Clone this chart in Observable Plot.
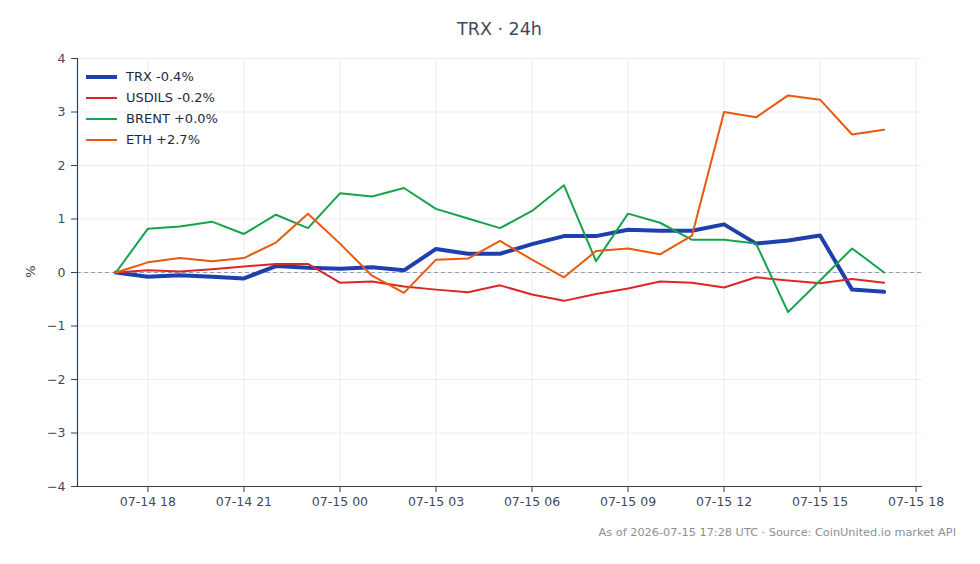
<!DOCTYPE html>
<html>
<head>
<meta charset="utf-8">
<script src="https://cdn.jsdelivr.net/npm/d3@7"></script>
<script src="https://cdn.jsdelivr.net/npm/@observablehq/plot@0.6"></script>
<style>
  html, body { margin: 0; padding: 0; background: #fff; }
  body { width: 980px; height: 564px; overflow: hidden; font-family: "DejaVu Sans", sans-serif; }
  #wrap { position: relative; width: 980px; height: 564px; }
  #title { position: absolute; left: 77px; width: 845px; top: 19px; text-align: center; font-size: 17.5px; color: #3f4a5c; }
  #ylab { position: absolute; left: 24px; top: 264px; font-size: 13px; color: #334155; transform: rotate(-90deg); transform-origin: center; }
  #caption { position: absolute; right: 24px; top: 526px; font-size: 11.3px; color: #8a8f98; white-space: nowrap; }
  #legend { position: absolute; left: 86px; top: 66px; font-size: 13px; color: #1f2937; }
  #legend .row { display: flex; align-items: center; height: 21px; }
  #legend svg { margin-right: 9px; }
</style>
</head>
<body>
<div id="wrap">
  <div id="chart"></div>
  <div id="title">TRX · 24h</div>
  <div id="ylab">%</div>
  <div id="legend"></div>
  <div id="caption">As of 2026-07-15 17:28 UTC · Source: CoinUnited.io market API</div>
</div>
<script>
// Hourly timestamps (UTC)
const times = [
  "2026-07-14T17:00Z","2026-07-14T18:00Z","2026-07-14T19:00Z","2026-07-14T20:00Z","2026-07-14T21:00Z",
  "2026-07-14T22:00Z","2026-07-14T23:00Z","2026-07-15T00:00Z","2026-07-15T01:00Z","2026-07-15T02:00Z",
  "2026-07-15T03:00Z","2026-07-15T04:00Z","2026-07-15T05:00Z","2026-07-15T06:00Z","2026-07-15T07:00Z",
  "2026-07-15T08:00Z","2026-07-15T09:00Z","2026-07-15T10:00Z","2026-07-15T11:00Z","2026-07-15T12:00Z",
  "2026-07-15T13:00Z","2026-07-15T14:00Z","2026-07-15T15:00Z","2026-07-15T16:00Z","2026-07-15T17:00Z"
];
const seriesNames = ["TRX", "USDILS", "BRENT", "ETH"];
const seriesColors = ["#1e40af", "#dc2626", "#16a34a", "#ea580c"];
const seriesWidths = [4, 2, 2, 2];

const trx    = [0, -0.08, -0.05, -0.08, -0.11, 0.12, 0.09, 0.07, 0.10, 0.04, 0.44, 0.35, 0.35, 0.53, 0.68, 0.68, 0.80, 0.78, 0.78, 0.90, 0.54, 0.60, 0.69, -0.32, -0.36];
const usdils = [0, 0.04, 0.02, 0.06, 0.11, 0.16, 0.16, -0.19, -0.17, -0.26, -0.32, -0.37, -0.24, -0.41, -0.53, -0.40, -0.30, -0.17, -0.19, -0.28, -0.09, -0.15, -0.20, -0.12, -0.19];
const brent  = [0, 0.82, 0.86, 0.95, 0.72, 1.08, 0.83, 1.48, 1.42, 1.58, 1.19, 1.01, 0.83, 1.15, 1.63, 0.21, 1.10, 0.93, 0.61, 0.61, 0.54, -0.74, -0.15, 0.45, 0.00];
const eth    = [0, 0.19, 0.27, 0.21, 0.27, 0.56, 1.10, 0.54, -0.06, -0.38, 0.24, 0.26, 0.59, 0.24, -0.09, 0.40, 0.45, 0.34, 0.69, 3.00, 2.90, 3.31, 3.23, 2.58, 2.67];

const yTicks = [-4, -3, -2, -1, 0, 1, 2, 3, 4];
const xTicks = ["2026-07-14T18:00Z","2026-07-14T21:00Z","2026-07-15T00:00Z","2026-07-15T03:00Z","2026-07-15T06:00Z","2026-07-15T09:00Z","2026-07-15T12:00Z","2026-07-15T15:00Z","2026-07-15T18:00Z"].map(d => new Date(d));
const xDomain = [new Date("2026-07-14T15:48Z"), new Date("2026-07-15T18:12Z")];

const allSeries = [trx, usdils, brent, eth];
const rows = [];
allSeries.forEach((vals, si) => vals.forEach((v, i) => rows.push({t: new Date(times[i]), v, s: seriesNames[si]})));

const axisColor = "#334155";
const chart = Plot.plot({
  width: 980, height: 564,
  marginTop: 58, marginBottom: 78, marginLeft: 77, marginRight: 58,
  style: {fontFamily: "DejaVu Sans, sans-serif", fontSize: "12.5px", color: axisColor, background: "#fff"},
  x: {type: "utc", domain: xDomain},
  y: {domain: [-4, 4]},
  color: {domain: seriesNames, range: seriesColors},
  marks: [
    Plot.gridX(xTicks, {stroke: "#e6e9ee", strokeOpacity: 1, strokeWidth: 0.8}),
    Plot.gridY(yTicks, {stroke: "#e6e9ee", strokeOpacity: 1, strokeWidth: 0.8}),
    Plot.ruleY([0], {stroke: "#8f9cb3", strokeWidth: 1, strokeDasharray: "4,3"}),
    ...seriesNames.map((name, si) =>
      Plot.line(rows.filter(r => r.s === name), {x: "t", y: "v", stroke: seriesColors[si], strokeWidth: seriesWidths[si], strokeLinejoin: "round"})
    ),
    Plot.axisX(xTicks, {tickFormat: d3.utcFormat("%m-%d %H"), tickSize: 6, tickPadding: 5, label: null, stroke: axisColor, fill: "#3f4a5c", fontSize: 12.5}),
    Plot.axisY(yTicks, {tickFormat: d => (d < 0 ? "\u2212" + Math.abs(d) : String(d)), tickSize: 6, tickPadding: 6, label: null, stroke: axisColor, fill: "#3f4a5c", fontSize: 12.5}),
    Plot.ruleY([-4], {x1: xDomain[0], x2: xDomain[1], stroke: axisColor, strokeWidth: 1.2}),
    Plot.ruleX([xDomain[0]], {y1: -4, y2: 4, stroke: axisColor, strokeWidth: 1.2})
  ]
});
document.getElementById("chart").appendChild(chart);

// Legend
const legend = document.getElementById("legend");
seriesNames.forEach((name, si) => {
  const last = allSeries[si][allSeries[si].length - 1];
  const label = `${name} ${last >= 0 ? "+" : "-"}${Math.abs(last).toFixed(1)}%`;
  const row = document.createElement("div");
  row.className = "row";
  row.innerHTML = `<svg width="31" height="8"><line x1="0" x2="31" y1="4" y2="4" stroke="${seriesColors[si]}" stroke-width="${seriesWidths[si]}"/></svg><span>${label}</span>`;
  legend.appendChild(row);
});
</script>
</body>
</html>
